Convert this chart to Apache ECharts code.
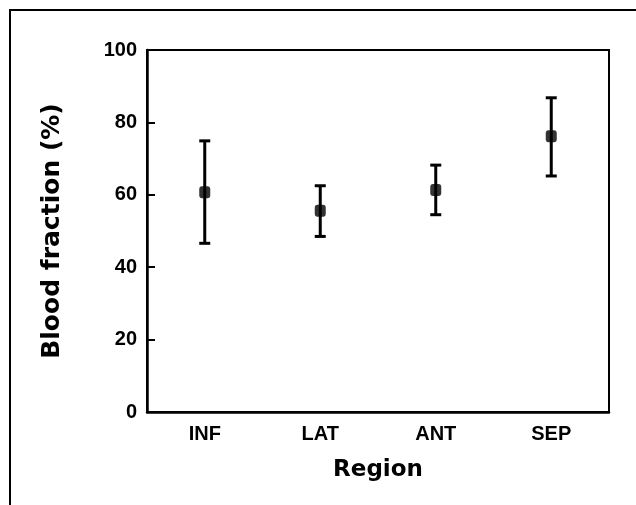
<!DOCTYPE html>
<html>
<head>
<meta charset="utf-8">
<script src="https://cdn.jsdelivr.net/npm/echarts@6/dist/echarts.min.js"></script>
<style>html,body{margin:0;padding:0;background:#fff}#c{width:636px;height:505px}</style>
</head>
<body>
<div id="c"></div>
<script>
var categories = ['INF', 'LAT', 'ANT', 'SEP'];
var means = [60.7, 55.6, 61.3, 76.2];
var lows = [46.6, 48.5, 54.5, 65.2];
var highs = [74.9, 62.5, 68.2, 86.8];
var yTicks = [0, 20, 40, 60, 80, 100];

var chart = echarts.init(document.getElementById('c'), null, {renderer: 'canvas'});
var errData = categories.map(function (c, i) { return [i, lows[i], highs[i]]; });

chart.setOption({
  animation: false,
  backgroundColor: '#fff',
  graphic: [{
    type: 'polyline',
    shape: {points: [[10, 505], [10, 10], [636, 10]]},
    style: {stroke: '#000', lineWidth: 2, fill: null}
  }],
  grid: {left: 147, right: 27, top: 50, bottom: 93, show: true, borderColor: '#000', borderWidth: 2, backgroundColor: 'transparent'},
  xAxis: {
    type: 'category',
    data: categories,
    name: 'Region',
    nameLocation: 'middle',
    nameGap: 47,
    nameTextStyle: {fontFamily: 'DejaVu Sans', fontWeight: 'bold', fontSize: 23, color: '#000'},
    axisLine: {lineStyle: {color: '#000', width: 2.5}},
    axisTick: {inside: true, length: 8, alignWithLabel: true, lineStyle: {color: '#000', width: 2}},
    axisLabel: {margin: 12, fontFamily: 'Liberation Sans', fontWeight: 'bold', fontSize: 20, color: '#000'},
    splitLine: {show: false}
  },
  yAxis: {
    type: 'value',
    min: 0, max: 100, interval: 20,
    name: 'Blood fraction (%)',
    nameLocation: 'middle',
    nameGap: 82,
    nameTextStyle: {fontFamily: 'DejaVu Sans', fontWeight: 'bold', fontSize: 25, color: '#000'},
    axisLine: {show: true, lineStyle: {color: '#000', width: 2.5}},
    axisTick: {show: true, inside: true, length: 8, lineStyle: {color: '#000', width: 2}},
    axisLabel: {margin: 10, fontFamily: 'Liberation Sans', fontWeight: 'bold', fontSize: 20, color: '#000',
      formatter: function (v) { return yTicks.indexOf(v) >= 0 ? String(v) : ''; }},
    splitLine: {show: false}
  },
  series: [{
    type: 'custom',
    data: errData,
    z: 3,
    renderItem: function (params, api) {
      var x = api.value(0);
      var lo = api.coord([x, api.value(1)]);
      var hi = api.coord([x, api.value(2)]);
      var hw = 5.5;
      var st = {stroke: '#000', lineWidth: 3};
      return {
        type: 'group',
        children: [
          {type: 'line', shape: {x1: lo[0], y1: lo[1], x2: hi[0], y2: hi[1]}, style: st},
          {type: 'line', shape: {x1: lo[0] - hw, y1: lo[1], x2: lo[0] + hw, y2: lo[1]}, style: st},
          {type: 'line', shape: {x1: hi[0] - hw, y1: hi[1], x2: hi[0] + hw, y2: hi[1]}, style: st}
        ]
      };
    }
  }, {
    type: 'scatter',
    data: means,
    symbol: 'roundRect',
    symbolSize: [11, 12],
    itemStyle: {color: '#000'},
    z: 4
  }]
});
</script>
</body>
</html>
